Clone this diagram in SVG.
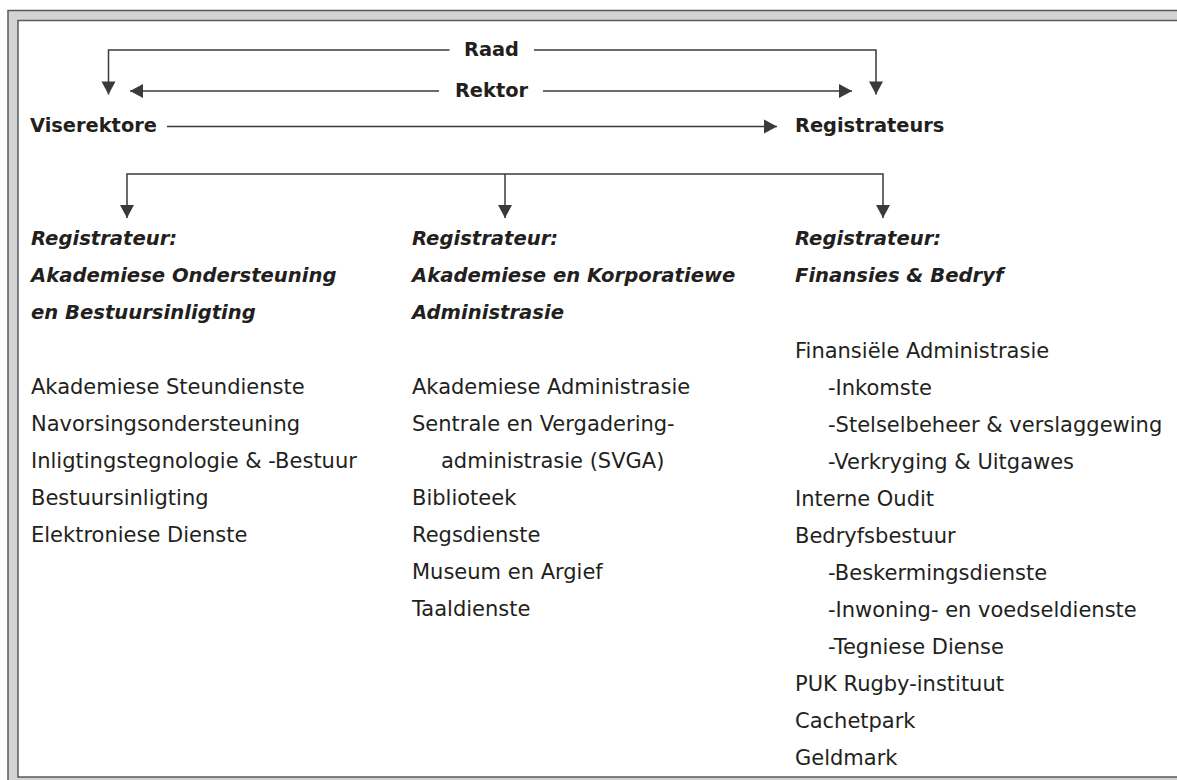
<svg xmlns="http://www.w3.org/2000/svg" width="1177" height="780" viewBox="0 0 1177 780">
<defs>
<style>
.frame{fill:#d1d3d4;stroke:#58595b;stroke-width:1.5}
.panel{fill:#ffffff;stroke:#58595b;stroke-width:1.5}
.conn{fill:none;stroke:#3a3a3a;stroke-width:1.5}
text{font-family:"DejaVu Sans","Open Sans",sans-serif;fill:#231f20;font-size:21px}
.top{font-weight:bold;font-size:19.4px}
.hd{font-weight:bold;font-style:italic;font-size:19.6px}
</style>
<marker id="ah" markerUnits="userSpaceOnUse" markerWidth="15" markerHeight="16" viewBox="0 0 15 16" refX="14" refY="8" orient="auto">
<path d="M1,1 L14,8 L1,15 Z" fill="#3a3a3a"/>
</marker>
</defs>
<rect class="frame" x="8" y="10.5" width="1200" height="800"/>
<rect class="panel" x="18" y="20.5" width="1200" height="756.5"/>
<g id="connectors">
<path class="conn" d="M449.5,50 H108.5 V94.5" marker-end="url(#ah)"/>
<path class="conn" d="M534,50 H876 V94.5" marker-end="url(#ah)"/>
<path class="conn" d="M439,91 H130" marker-end="url(#ah)"/>
<path class="conn" d="M543,91 H852" marker-end="url(#ah)"/>
<path class="conn" d="M167,126.5 H777" marker-end="url(#ah)"/>
<path class="conn" d="M505,174 H127 V218" marker-end="url(#ah)"/>
<path class="conn" d="M505,174 H883 V218" marker-end="url(#ah)"/>
<path class="conn" d="M505,174 V218" marker-end="url(#ah)"/>
</g>
<g id="raad"><text class="top" x="491.5" y="56" text-anchor="middle">Raad</text></g>
<g id="rektor"><text class="top" x="491.5" y="97" text-anchor="middle">Rektor</text></g>
<g id="viserektore"><text class="top" x="30" y="132">Viserektore</text></g>
<g id="registrateurs"><text class="top" x="795" y="132">Registrateurs</text></g>
<g id="reg-akademiese-ondersteuning">
<text class="hd" x="31" y="245">Registrateur:</text>
<text class="hd" x="31" y="282">Akademiese Ondersteuning</text>
<text class="hd" x="31" y="319">en Bestuursinligting</text>
<text x="31" y="394">Akademiese Steundienste</text>
<text x="31" y="431">Navorsingsondersteuning</text>
<text x="31" y="468">Inligtingstegnologie &amp; -Bestuur</text>
<text x="31" y="505">Bestuursinligting</text>
<text x="31" y="542">Elektroniese Dienste</text>
</g>
<g id="reg-akademiese-korporatiewe">
<text class="hd" x="412" y="245">Registrateur:</text>
<text class="hd" x="412" y="282">Akademiese en Korporatiewe</text>
<text class="hd" x="412" y="319">Administrasie</text>
<text x="412" y="394">Akademiese Administrasie</text>
<text x="412" y="431">Sentrale en Vergadering-</text>
<text x="441" y="468">administrasie (SVGA)</text>
<text x="412" y="505">Biblioteek</text>
<text x="412" y="542">Regsdienste</text>
<text x="412" y="579">Museum en Argief</text>
<text x="412" y="616">Taaldienste</text>
</g>
<g id="reg-finansies-bedryf">
<text class="hd" x="795" y="245">Registrateur:</text>
<text class="hd" x="795" y="282">Finansies &amp; Bedryf</text>
<text x="795" y="358">Finansiële Administrasie</text>
<text x="828" y="395">-Inkomste</text>
<text x="828" y="432">-Stelselbeheer &amp; verslaggewing</text>
<text x="828" y="469">-Verkryging &amp; Uitgawes</text>
<text x="795" y="506">Interne Oudit</text>
<text x="795" y="543">Bedryfsbestuur</text>
<text x="828" y="580">-Beskermingsdienste</text>
<text x="828" y="617">-Inwoning- en voedseldienste</text>
<text x="828" y="654">-Tegniese Diense</text>
<text x="795" y="691">PUK Rugby-instituut</text>
<text x="795" y="728">Cachetpark</text>
<text x="795" y="765">Geldmark</text>
</g>
</svg>
